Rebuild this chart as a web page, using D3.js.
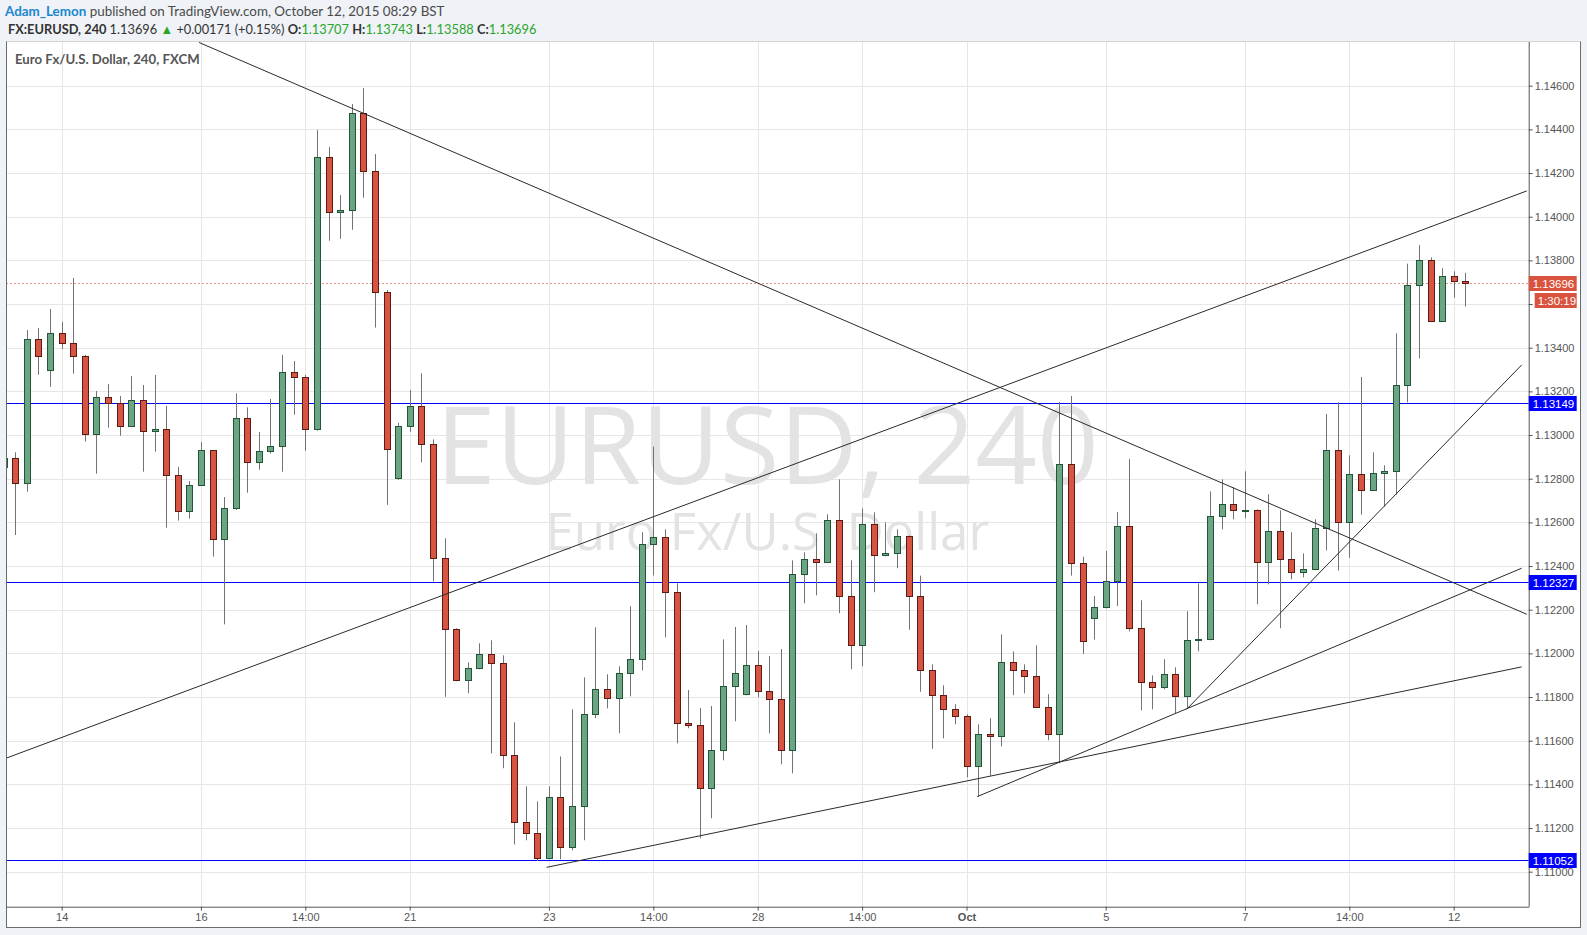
<!DOCTYPE html>
<html><head><meta charset="utf-8">
<script src="https://cdn.jsdelivr.net/npm/d3@7"></script>
<style>
body{margin:0;background:#eff2f6;overflow:hidden;}
svg{display:block;}
</style></head><body>
<svg id="c" width="1587" height="935"></svg>
<script>
// ---------- data ----------
const firstIndex = -1; // first (partially hidden) 4h candle
const opens = [1.12854,1.12893,1.12779,1.13438,1.13297,1.13466,1.13420,1.13361,1.13003,1.13173,1.13145,1.13040,1.13159,1.13017,1.13026,1.12816,1.12651,1.12770,1.12930,1.12522,1.12664,1.13077,1.12875,1.12926,1.12948,1.13287,1.13264,1.13026,1.14272,1.14020,1.14029,1.14474,1.14208,1.13654,1.12802,1.13040,1.13132,1.12958,1.12435,1.12110,1.11877,1.11932,1.11996,1.11955,1.11533,1.11226,1.11176,1.11061,1.11341,1.11112,1.11300,1.11721,1.11835,1.11794,1.11909,1.11973,1.12500,1.12532,1.12280,1.11680,1.11670,1.11382,1.11556,1.11849,1.11813,1.11945,1.11826,1.11790,1.11556,1.12362,1.12431,1.12417,1.12609,1.12261,1.12037,1.12591,1.12449,1.12458,1.12536,1.12261,1.11922,1.11808,1.11744,1.11712,1.11483,1.11629,1.11620,1.11959,1.11922,1.11895,1.11753,1.11629,1.12866,1.12413,1.12161,1.12211,1.12330,1.12582,1.12115,1.11867,1.11845,1.11904,1.11803,1.12060,1.12064,1.12628,1.12683,1.12655,1.12655,1.12417,1.12559,1.12431,1.12371,1.12385,1.12573,1.12930,1.12600,1.12820,1.12747,1.12825,1.12834,1.13228,1.13686,1.13800,1.13521,1.13727,1.13707];
const highs = [1.12909,1.12921,1.13481,1.13490,1.13577,1.13518,1.13719,1.13367,1.13202,1.13234,1.13179,1.13270,1.13229,1.13275,1.13133,1.12854,1.12789,1.12968,1.12930,1.12716,1.13191,1.13127,1.13014,1.13165,1.13367,1.13339,1.13275,1.14397,1.14319,1.14099,1.14516,1.14589,1.14287,1.13664,1.13056,1.13206,1.13283,1.12980,1.12527,1.12115,1.11959,1.12046,1.12060,1.11991,1.11684,1.11391,1.11322,1.11391,1.11528,1.11744,1.11890,1.12119,1.11904,1.11941,1.12216,1.12555,1.12947,1.12568,1.12321,1.11832,1.11750,1.11759,1.12064,1.12121,1.12130,1.12011,1.11988,1.12020,1.12426,1.12463,1.12550,1.12637,1.12797,1.12426,1.12664,1.12646,1.12600,1.12568,1.12540,1.12356,1.11950,1.11854,1.11767,1.11721,1.11675,1.11703,1.12087,1.12009,1.11950,1.12037,1.11813,1.13151,1.13179,1.12443,1.12263,1.12469,1.12647,1.12890,1.12243,1.11899,1.11973,1.11936,1.12193,1.12321,1.12742,1.12797,1.12761,1.12834,1.12660,1.12729,1.12655,1.12555,1.12458,1.12614,1.13096,1.13150,1.12907,1.13266,1.12921,1.12861,1.13466,1.13785,1.13870,1.13814,1.13764,1.13750,1.13743];
const lows = [1.12840,1.12542,1.12740,1.13276,1.13221,1.13395,1.13281,1.12970,1.12823,1.13034,1.12997,1.13040,1.12832,1.12924,1.12576,1.12608,1.12617,1.12770,1.12443,1.12133,1.12657,1.12736,1.12841,1.12915,1.12832,1.13093,1.12928,1.13020,1.13890,1.13899,1.13940,1.14087,1.13492,1.12680,1.12795,1.13015,1.12875,1.12330,1.11801,1.11872,1.11817,1.11927,1.11542,1.11474,1.11125,1.11144,1.11049,1.11057,1.11057,1.11098,1.11144,1.11703,1.11748,1.11634,1.11803,1.11922,1.12357,1.12074,1.11588,1.11657,1.11153,1.11245,1.11510,1.11689,1.11808,1.11799,1.11634,1.11492,1.11451,1.12229,1.12266,1.12413,1.12184,1.11927,1.11941,1.12280,1.12445,1.12390,1.12108,1.11824,1.11563,1.11611,1.11675,1.11432,1.11344,1.11440,1.11574,1.11808,1.11817,1.11753,1.11602,1.11497,1.12356,1.11998,1.12063,1.12206,1.12217,1.12101,1.11739,1.11744,1.11835,1.11725,1.11748,1.12009,1.12060,1.12568,1.12614,1.12619,1.12225,1.12316,1.12115,1.12339,1.12348,1.12381,1.12472,1.12379,1.12438,1.12635,1.12747,1.12672,1.12727,1.13150,1.13351,1.13521,1.13521,1.13629,1.13588];
const closes = [1.12895,1.12779,1.13439,1.13361,1.13466,1.13420,1.13361,1.13003,1.13173,1.13145,1.13040,1.13159,1.13017,1.13026,1.12816,1.12651,1.12770,1.12930,1.12522,1.12664,1.13077,1.12875,1.12926,1.12948,1.13287,1.13264,1.13026,1.14272,1.14020,1.14029,1.14474,1.14208,1.13654,1.12935,1.13040,1.13132,1.12958,1.12435,1.12110,1.11877,1.11932,1.11996,1.11955,1.11533,1.11226,1.11176,1.11061,1.11341,1.11112,1.11300,1.11721,1.11835,1.11794,1.11909,1.11973,1.12500,1.12532,1.12280,1.11680,1.11670,1.11382,1.11556,1.11849,1.11909,1.11945,1.11826,1.11790,1.11556,1.12362,1.12431,1.12417,1.12609,1.12261,1.12037,1.12591,1.12449,1.12458,1.12536,1.12261,1.11922,1.11808,1.11744,1.11712,1.11483,1.11629,1.11620,1.11959,1.11922,1.11895,1.11753,1.11629,1.12866,1.12413,1.12055,1.12211,1.12330,1.12582,1.12115,1.11867,1.11845,1.11904,1.11803,1.12060,1.12064,1.12628,1.12683,1.12655,1.12658,1.12417,1.12559,1.12431,1.12371,1.12385,1.12573,1.12930,1.12600,1.12820,1.12747,1.12825,1.12834,1.13228,1.13686,1.13800,1.13521,1.13727,1.13704,1.13696];

const timeTickIndex  = [4, 16, 25, 34, 46, 55, 64, 73, 82, 94, 106, 115, 124];
const timeTickLabels = ["14","16","14:00","21","23","14:00","28","14:00","Oct","5","7","14:00","12"];
const priceTicks = [1.110,1.112,1.114,1.116,1.118,1.120,1.122,1.124,1.126,1.128,1.130,1.132,1.134,1.136,1.138,1.140,1.142,1.144,1.146];

const levelPrices = [1.13149, 1.12327, 1.11052];
const lastPrice = 1.13696;
const countdown = "1:30:19";

// trend lines as [candle index, price] pairs
const trendStarts = [[15.84, 1.14798], [-2, 1.11496], [45.8, 1.11020], [82.93, 1.11344], [100.98, 1.11744]];
const trendEnds   = [[130.3, 1.12179], [130.3, 1.14118], [129.86, 1.11938], [129.86, 1.12390], [129.86, 1.13321]];

// ---------- layout ----------
const svg = d3.select("#c");
const P = {l: 6, t: 42, r: 1528.7, b: 906.7};
const x = d3.scaleLinear().domain([-1, 125]).range([3.7, 1465.3]);
const y = d3.scaleLinear().domain([1.110, 1.146]).range([871.7, 85.7]);

const candles = opens.map((o, k) => ({i: firstIndex + k, o, h: highs[k], l: lows[k], c: closes[k]}));

// header
const hdr = svg.append("g").attr("font-family", "Lato, 'Open Sans', sans-serif");
const t1 = hdr.append("text").attr("x", 5).attr("y", 16).attr("fill", "#4a4a4a").attr("font-size", 13.4);
t1.append("tspan").attr("fill", "#1b87cf").attr("font-weight", "bold").text("Adam_Lemon");
t1.append("tspan").text(" published on TradingView.com, October 12, 2015 08:29 BST");
const t2 = hdr.append("text").attr("x", 8).attr("y", 34).attr("fill", "#333").attr("font-size", 12.8);
const green = "#2aa52a";
t2.append("tspan").attr("font-weight", "bold").text("FX:EURUSD, 240 ");
t2.append("tspan").text("1.13696 ");
t2.append("tspan").attr("fill", green).text("▲");
t2.append("tspan").text(" +0.00171 (+0.15%) ");
[["O:", opens[opens.length-1]], ["H:", highs[highs.length-1]], ["L:", lows[lows.length-1]], ["C:", closes[closes.length-1]]].forEach(([k, v]) => {
  t2.append("tspan").attr("font-weight", "bold").text(k);
  t2.append("tspan").attr("fill", green).text(d3.format(".5f")(v) + " ");
});

// panel
svg.append("rect").attr("x", P.l + 0.5).attr("y", P.t - 0.5).attr("width", 1580 - P.l).attr("height", 928 - P.t)
  .attr("fill", "#fff").attr("stroke", "#6b6b6b");
svg.append("line").attr("x1", P.l + 0.5).attr("x2", 1580.5).attr("y1", P.t - 0.5).attr("y2", P.t - 0.5).attr("stroke", "#d4d4d4");

svg.append("defs").append("clipPath").attr("id", "plot").append("rect")
  .attr("x", P.l + 1).attr("y", P.t).attr("width", P.r - P.l - 1).attr("height", P.b - P.t);

const grid = svg.append("g").attr("stroke", "#e6e6e6").attr("stroke-width", 1);
grid.selectAll(".hg").data(priceTicks).join("line")
  .attr("x1", P.l + 1).attr("x2", P.r).attr("y1", d => Math.round(y(d)) + 0.5).attr("y2", d => Math.round(y(d)) + 0.5);
grid.selectAll(".vg").data(timeTickIndex).join("line")
  .attr("y1", P.t).attr("y2", P.b).attr("x1", d => Math.round(x(d)) + 0.5).attr("x2", d => Math.round(x(d)) + 0.5);

// watermark
const wm = svg.append("g").attr("font-family", "'Open Sans', sans-serif").attr("fill", "#e3e3e3").attr("text-anchor", "middle");
wm.append("text").attr("x", (P.l + P.r) / 2).attr("y", 484).attr("font-size", 108).text("EURUSD, 240");
wm.append("text").attr("x", (P.l + P.r) / 2).attr("y", 550).attr("font-size", 51).text("Euro Fx/U.S. Dollar");

// legend
svg.append("text").attr("x", 15).attr("y", 64).attr("font-family", "Lato, sans-serif").attr("font-weight", "bold")
  .attr("font-size", 13.2).attr("fill", "#555").text("Euro Fx/U.S. Dollar, 240, FXCM");

const plot = svg.append("g").attr("clip-path", "url(#plot)");

// horizontal levels
plot.selectAll(".lvl").data(levelPrices).join("line")
  .attr("x1", P.l).attr("x2", P.r).attr("y1", d => Math.round(y(d)) + 0.5).attr("y2", d => Math.round(y(d)) + 0.5)
  .attr("stroke", "#0000ff").attr("stroke-width", 1);
plot.append("line").attr("x1", P.l).attr("x2", P.r)
  .attr("y1", Math.round(y(lastPrice)) + 0.5).attr("y2", Math.round(y(lastPrice)) + 0.5)
  .attr("stroke", "#e8938b").attr("stroke-dasharray", "2,2");

// candles
const cg = plot.append("g");
cg.selectAll(".wick").data(candles).join("line")
  .attr("x1", d => Math.round(x(d.i)) + 0.5).attr("x2", d => Math.round(x(d.i)) + 0.5)
  .attr("y1", d => y(d.h)).attr("y2", d => y(d.l)).attr("stroke", "#737375");
cg.selectAll(".body").data(candles).join("rect")
  .attr("x", d => Math.round(x(d.i)) - 3 + 0.5)
  .attr("y", d => Math.round(y(Math.max(d.o, d.c))) + 0.5)
  .attr("width", 6)
  .attr("height", d => Math.max(1, Math.round(Math.abs(y(d.o) - y(d.c)))))
  .attr("fill", d => d.c >= d.o ? "#6ba583" : "#d75442")
  .attr("stroke", d => d.c >= d.o ? "#225437" : "#5b1a13");

// trend lines
plot.selectAll(".trend").data(trendStarts.map((s, k) => [s, trendEnds[k]])).join("line")
  .attr("x1", d => x(d[0][0])).attr("y1", d => y(d[0][1]))
  .attr("x2", d => x(d[1][0])).attr("y2", d => y(d[1][1]))
  .attr("stroke", "#2a2a2a").attr("stroke-width", 1);

// axes
const yAxis = d3.axisRight(y).tickValues(priceTicks).tickFormat(d3.format(".5f")).tickSize(4).tickPadding(2);
const ya = svg.append("g").attr("transform", `translate(${P.r},0)`).call(yAxis);
ya.select(".domain").attr("d", `M0.5,${P.t}V${P.b}`).attr("stroke", "#555");
ya.selectAll(".tick line").attr("stroke", "#555");
ya.selectAll(".tick text").attr("fill", "#555").attr("font-family", "'Liberation Sans', Arial, sans-serif").attr("font-size", 11);

const xAxis = d3.axisBottom(x).tickValues(timeTickIndex).tickFormat((d, k) => timeTickLabels[k]).tickSize(4).tickPadding(3);
const xa = svg.append("g").attr("transform", `translate(0,${P.b})`).call(xAxis);
xa.select(".domain").attr("d", `M${P.l},0.5H${P.r + 0.5}`).attr("stroke", "#555");
xa.selectAll(".tick line").attr("stroke", "#555");
xa.selectAll(".tick text").attr("fill", "#555").attr("font-family", "'Liberation Sans', Arial, sans-serif").attr("font-size", 11)
  .attr("font-weight", (d, k) => timeTickLabels[k] === "Oct" ? "bold" : "normal");

// price labels on axis
const lbl = svg.append("g").attr("font-family", "'Liberation Sans', Arial, sans-serif").attr("font-size", 11.5);
levelPrices.forEach(p => {
  const yy = Math.round(y(p));
  lbl.append("rect").attr("x", P.r).attr("y", yy - 7).attr("width", 48).attr("height", 15).attr("fill", "#0000ff");
  lbl.append("text").attr("x", P.r + 4).attr("y", yy + 4.5).attr("fill", "#fff").text(d3.format(".5f")(p));
});
{
  const yy = Math.round(y(lastPrice));
  lbl.append("rect").attr("x", P.r).attr("y", yy - 7).attr("width", 48).attr("height", 15).attr("fill", "#d9533e");
  lbl.append("text").attr("x", P.r + 4).attr("y", yy + 4.5).attr("fill", "#fff").text(d3.format(".5f")(lastPrice));
  lbl.append("rect").attr("x", P.r + 6).attr("y", yy + 10).attr("width", 42).attr("height", 15).attr("fill", "#d9533e");
  lbl.append("text").attr("x", P.r + 9).attr("y", yy + 21.5).attr("fill", "#fff").text(countdown);
}
</script>
</body></html>
